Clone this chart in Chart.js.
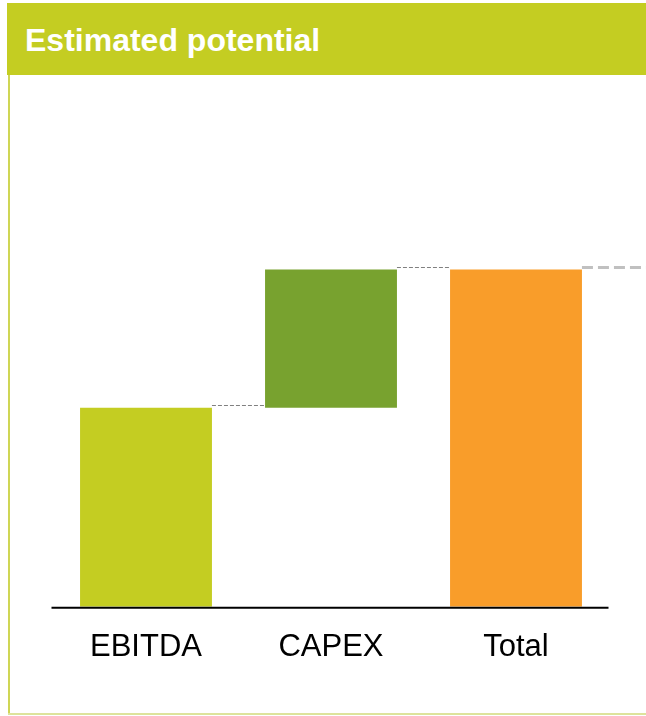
<!DOCTYPE html>
<html>
<head>
<meta charset="utf-8">
<script src="https://cdn.jsdelivr.net/npm/chart.js@4"></script>
<style>
  html, body { margin: 0; padding: 0; background: #fff; }
  #wrap { position: relative; width: 646px; height: 716px; overflow: hidden; }
  #header {
    position: absolute; left: 7px; top: 3px; width: 650px; height: 72px;
    background: #c4cd22;
    color: #fff; font: bold 32px "Liberation Sans", Arial, sans-serif;
    line-height: 74px; padding-left: 18px; box-sizing: border-box;
  }
  #leftLine { position: absolute; left: 8px; top: 75px; width: 2px; height: 640px; background: #cfd655; }
  #bottomLine { position: absolute; left: 8px; top: 713px; width: 640px; height: 2px; background: #dde39c; }
  canvas { position: absolute; left: 0; top: 0; }
</style>
</head>
<body>
<div id="wrap">
  <canvas id="graphic" width="646" height="716"></canvas>
  <div id="header">Estimated potential</div>
  <div id="leftLine"></div>
  <div id="bottomLine"></div>
</div>
<script>
// waterfall values
const categories = ["EBITDA", "CAPEX", "Total"];
const ebitda = 59;
const capex = 41;
const total = ebitda + capex;
const barColors = ["#c4cd22", "#78a22f", "#f99d2a"];

(() => {
    // floating bars: [start, end]
    const ranges = [[0, ebitda], [ebitda, ebitda + capex], [0, total]];

    // dashed connectors and baseline
    const connectors = {
        id: "connectors",
        afterDatasetsDraw(chart) {
            const ctx = chart.ctx;
            const y = chart.scales.y;
            const bars = chart.getDatasetMeta(0).data;
            ctx.save();
            ctx.strokeStyle = "#808080";
            ctx.lineWidth = 1;
            ctx.setLineDash([4, 2]);
            for (let i = 0; i < bars.length - 1; i++) {
                const a = bars[i], b = bars[i + 1];
                const py = Math.round(y.getPixelForValue(ranges[i][1])) - 2.5;
                ctx.beginPath();
                ctx.moveTo(a.x + a.width / 2, py);
                ctx.lineTo(b.x - b.width / 2, py);
                ctx.stroke();
            }
            // total carried on to the right
            const last = bars[bars.length - 1];
            const ty = y.getPixelForValue(total) - 2;
            ctx.strokeStyle = "#c0c0c0";
            ctx.lineWidth = 3;
            ctx.setLineDash([11, 5]);
            ctx.beginPath();
            ctx.moveTo(last.x + last.width / 2, ty);
            ctx.lineTo(chart.width, ty);
            ctx.stroke();

            // baseline
            const by = y.getPixelForValue(0);
            ctx.setLineDash([]);
            ctx.strokeStyle = "#000";
            ctx.lineWidth = 2;
            ctx.beginPath();
            ctx.moveTo(chart.chartArea.left - 2, by + 1);
            ctx.lineTo(chart.chartArea.right, by + 1);
            ctx.stroke();
            ctx.restore();
        }
    };

    const ctx = document.getElementById("graphic").getContext("2d");
    new Chart(ctx, {
        type: "bar",
        data: {
            labels: categories,
            datasets: [{
                data: ranges,
                backgroundColor: barColors,
                borderWidth: 0,
                categoryPercentage: 1,
                barPercentage: 0.713
            }]
        },
        options: {
            responsive: false,
            animation: false,
            layout: { padding: { top: 101, left: 53.5, right: 37.5, bottom: 28 } },
            plugins: { legend: { display: false }, tooltip: { enabled: false } },
            scales: {
                x: {
                    grid: { display: false, drawTicks: false },
                    border: { display: false },
                    ticks: {
                        color: "#000",
                        padding: 22,
                        font: { family: "'Liberation Sans', Arial, sans-serif", size: 31 }
                    }
                },
                y: { display: false, min: 0, max: 150 }
            }
        },
        plugins: [connectors]
    });
})();
</script>
</body>
</html>
